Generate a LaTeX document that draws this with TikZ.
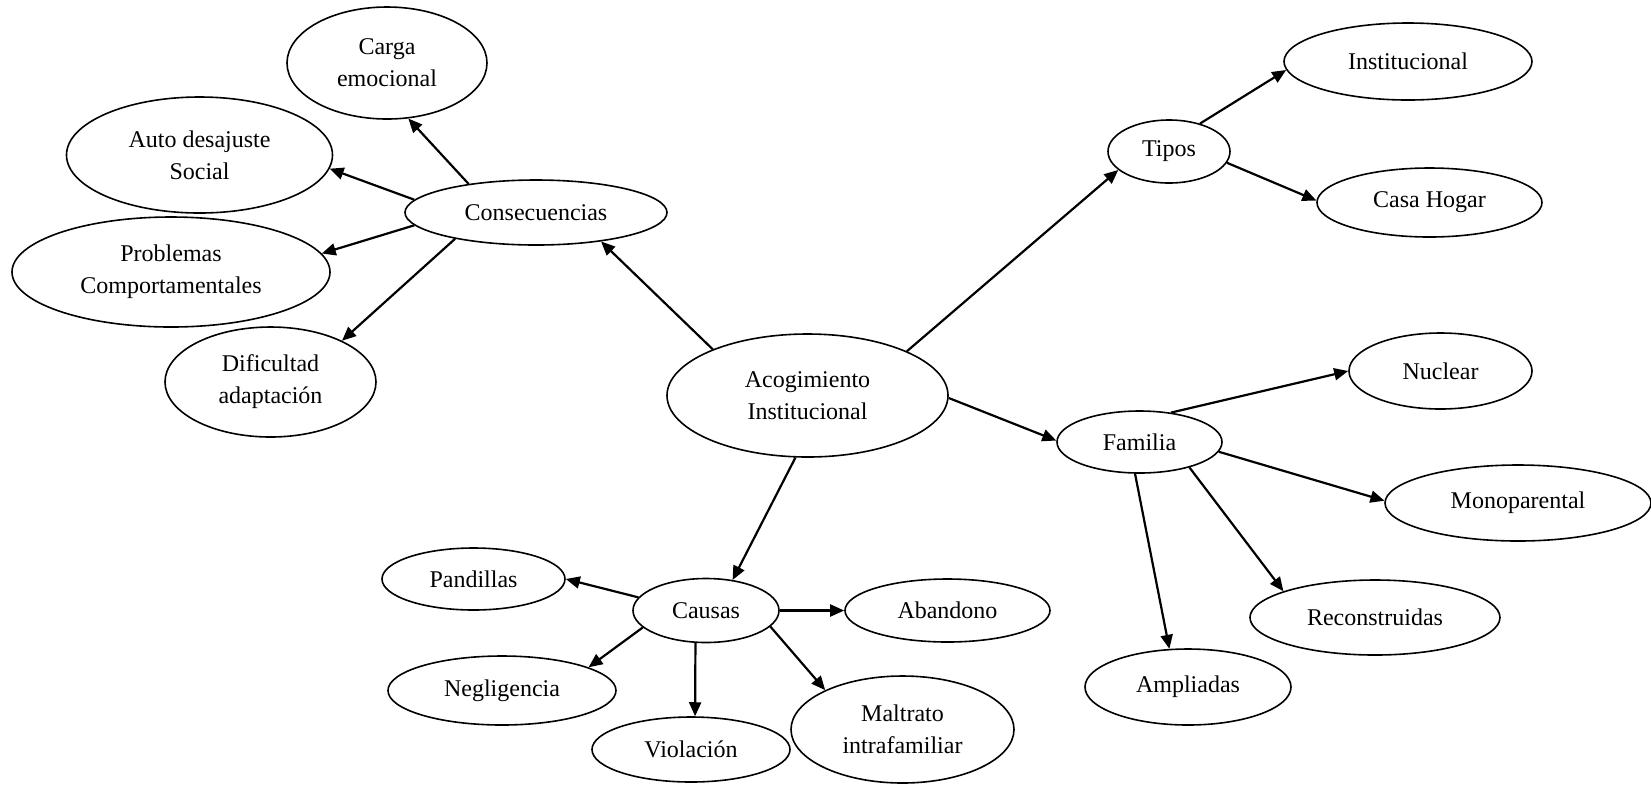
\documentclass[tikz,border=0pt]{standalone}
\usepackage{fontspec}
\setmainfont{Liberation Serif}
\usetikzlibrary{shapes.geometric,arrows.meta}

\tikzset{every picture/.style={line width=0.75pt}}
\tikzset{
  bubble/.style={draw, ellipse, line width=0.8pt, inner sep=0pt, align=center, font=\fontsize{12}{16}\selectfont},
  link/.style={line width=1.1pt, -{Triangle[length=7pt,width=6pt]}}
}

\begin{document}
\begin{tikzpicture}[x=0.5pt,y=-0.5pt]
%set diagram size to the page
\useasboundingbox (0,0) rectangle (1651,784);

%Shape: Ellipse [centre]
\node [bubble, minimum width=140.5pt, minimum height=61.5pt] (acog) at (807.5,395.5) {Acogimiento\\Institucional};

%Shape: Ellipse [consecuencias]
\node [bubble, minimum width=131pt, minimum height=32.5pt] (cons) at (536,212.5) {Consecuencias};
\node [bubble, minimum width=100pt, minimum height=56pt] (carga) at (387,63) {Carga\\emocional};
\node [bubble, minimum width=133pt, minimum height=58pt] (auto) at (199.5,155) {Auto desajuste\\Social};
\node [bubble, minimum width=159pt, minimum height=55pt] (prob) at (171,272) {Problemas\\Comportamentales};
\node [bubble, minimum width=105.5pt, minimum height=55pt] (dif) at (270.5,382) {Dificultad\\adaptación};

%Shape: Ellipse [tipos]
\node [bubble, minimum width=61pt, minimum height=31.5pt] (tipos) at (1169,151.5) {Tipos};
\node [bubble, minimum width=124pt, minimum height=38.5pt] (inst) at (1408,61.5) {Institucional};
\node [bubble, minimum width=112.5pt, minimum height=34.5pt] (casa) at (1429.5,202.5) {Casa Hogar};

%Shape: Ellipse [familia]
\node [bubble, minimum width=82.5pt, minimum height=31pt] (fam) at (1139.5,442) {Familia};
\node [bubble, minimum width=91.5pt, minimum height=38pt] (nuc) at (1440.5,371) {Nuclear};
\node [bubble, minimum width=133pt, minimum height=38pt] (mono) at (1518,503) {Monoparental};
\node [bubble, minimum width=125pt, minimum height=37.5pt] (recon) at (1375,617.5) {Reconstruidas};
\node [bubble, minimum width=103pt, minimum height=38pt] (ampl) at (1188,687) {Ampliadas};

%Shape: Ellipse [causas]
\node [bubble, minimum width=73pt, minimum height=32pt] (causas) at (706,610.5) {Causas};
\node [bubble, minimum width=91.5pt, minimum height=31pt] (pand) at (473.5,579) {Pandillas};
\node [bubble, minimum width=114pt, minimum height=34.5pt] (neg) at (502,690.5) {Negligencia};
\node [bubble, minimum width=99pt, minimum height=32.5pt] (viol) at (691,749.5) {Violación};
\node [bubble, minimum width=111.5pt, minimum height=53.5pt] (malt) at (902.5,729.5) {Maltrato\\intrafamiliar};
\node [bubble, minimum width=102.5pt, minimum height=31.5pt] (aband) at (947.5,610.5) {Abandono};

%Straight Lines [from centre]
\draw [link] (acog.154) -- (cons.-24);
\draw [link] (acog.24) -- (tipos.200);
\draw [link] (acog.-1) -- (fam.179);
\draw [link] (acog.259) -- (causas.49);

%Straight Lines [consecuencias]
\draw [link] (cons.157) -- (carga.-69);
\draw [link] (cons.174) -- (auto.-6);
\draw [link] (cons.186) -- (prob.7);
\draw [link] (cons.198) -- (dif.30);

%Straight Lines [tipos]
\draw [link] (tipos.42) -- (inst.184);
\draw [link] (tipos.-11) -- (casa.179);

%Straight Lines [familia]
\draw [link] (fam.43) -- (nuc.180);
\draw [link] (fam.-7) -- (mono.179);
\draw [link] (fam.-27) -- (recon.164);
\draw [link] (fam.262) -- (ampl.116);

%Straight Lines [causas]
\draw [link] (causas.169) -- (pand.0);
\draw [link] (causas.195) -- (neg.15);
\draw [link] (causas.252) -- (viol.83);
\draw [link] (causas.-14) -- (malt.153);
\draw [link] (causas.0) -- (aband.180);

\end{tikzpicture}
\end{document}
